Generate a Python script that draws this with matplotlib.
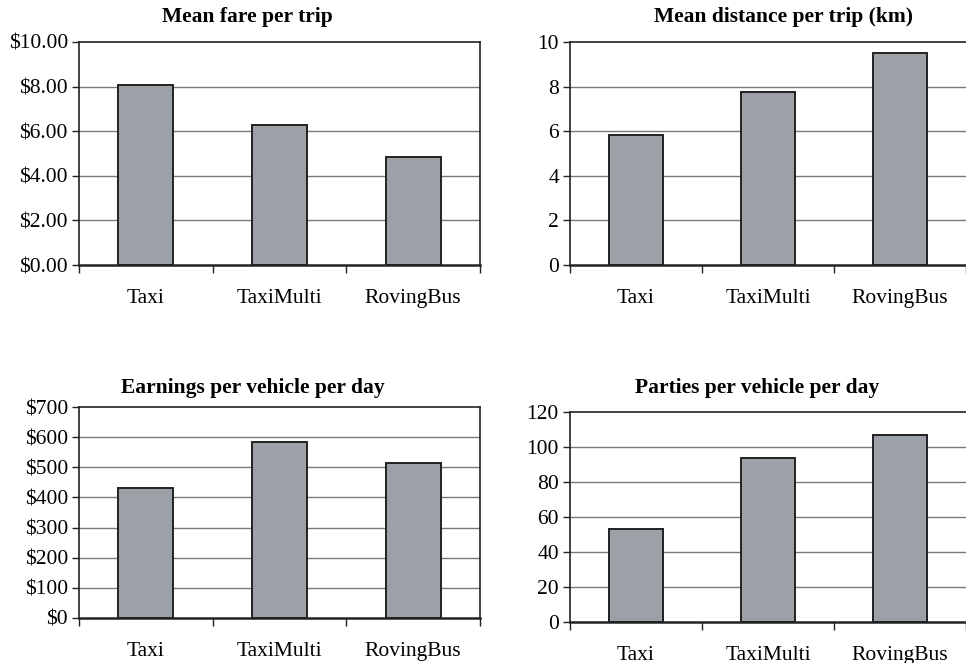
import matplotlib
matplotlib.use("Agg")
import matplotlib.pyplot as plt
from matplotlib.ticker import FuncFormatter

plt.rcParams['font.family'] = ['Liberation Serif', 'DejaVu Serif']

modes = ["Taxi", "TaxiMulti", "RovingBus"]

fare_per_trip = [8.07, 6.27, 4.84]
distance_per_trip = [5.83, 7.78, 9.51]
earnings_per_vehicle = [430, 585, 514]
parties_per_vehicle = [53.2, 93.5, 107.0]

titles = ["Mean fare per trip", "Mean distance per trip (km)",
          "Earnings per vehicle per day", "Parties per vehicle per day"]

W, H = 966, 663
fig = plt.figure(figsize=(W / 100, H / 100), dpi=100)


def px_axes(left, top, right, bottom):
    return fig.add_axes([left / W, 1 - bottom / H, (right - left) / W, (bottom - top) / H])


def draw_panel(ax, values, ymax, step, fmt, show_right=True):
    n = len(modes)
    ax.set_xlim(-0.5, n - 0.5)
    ax.set_ylim(0, ymax)
    yt = [i * step for i in range(int(round(ymax / step)) + 1)]
    ax.set_yticks(yt)
    ax.yaxis.set_major_formatter(FuncFormatter(fmt))
    for y in yt[1:-1]:
        ax.axhline(y, color="#7a7a7a", lw=1.0, zorder=1)
    ax.bar(range(n), values, width=0.41, color="#9ba1a7",
           edgecolor="#222222", linewidth=1.4, zorder=2)
    # category boundary ticks on the x axis, labels centred under each bar
    ax.set_xticks([i - 0.5 for i in range(n + 1)])
    ax.set_xticklabels([])
    ax.set_xticks(range(n), minor=True)
    ax.set_xticklabels(modes, minor=True, fontsize=15.5)
    ax.tick_params(axis="x", which="minor", length=0, pad=17)
    ax.tick_params(axis="x", which="major", length=6, width=1.0, color="#222222")
    ax.tick_params(axis="y", length=5, width=1.0, labelsize=15.5, pad=3, color="#222222")
    for side in ["left", "top", "right"]:
        ax.spines[side].set_color("#222222")
        ax.spines[side].set_linewidth(1.2)
    ax.spines["bottom"].set_color("#222222")
    ax.spines["bottom"].set_linewidth(1.8)
    ax.spines["right"].set_visible(show_right)
    ax.set_facecolor("white")


money2 = lambda v, p: "${:.2f}".format(v)
money0 = lambda v, p: "${:.0f}".format(v)
plain = lambda v, p: "{:.0f}".format(v)

ax1 = px_axes(79, 42, 480, 265)
draw_panel(ax1, fare_per_trip, 10, 2, money2)

ax2 = px_axes(570, 42, 966, 265)
draw_panel(ax2, distance_per_trip, 10, 2, plain, show_right=False)

ax3 = px_axes(79, 407, 480, 618)
draw_panel(ax3, earnings_per_vehicle, 700, 100, money0)

ax4 = px_axes(570, 412, 966, 622)
draw_panel(ax4, parties_per_vehicle, 120, 20, plain, show_right=False)

title_pos = [(247, 17), (783, 17), (253, 388), (757, 388)]
for t, (x, y) in zip(titles, title_pos):
    fig.text(x / W, 1 - y / H, t, ha="center", va="center",
             fontsize=15.5, fontweight="bold")

fig.savefig("out.png", dpi=100, facecolor="white")
